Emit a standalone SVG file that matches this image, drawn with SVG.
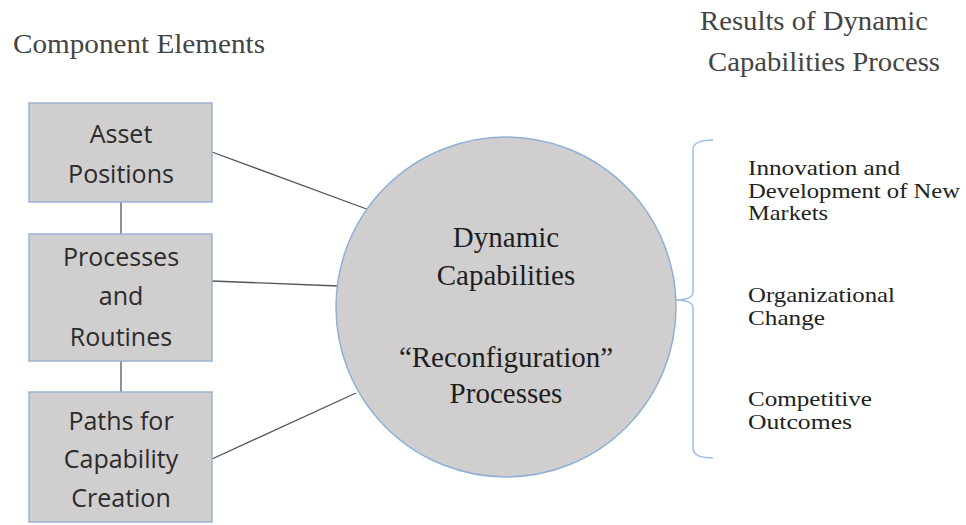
<svg xmlns="http://www.w3.org/2000/svg" width="966" height="525" viewBox="0 0 966 525">
<style>
.box{fill:#d0cece;stroke:#9ab4d2;stroke-width:1.5}
.bt{font-family:"Open Sans","Noto Sans",sans-serif;font-size:25px;fill:#2b2b2b;text-anchor:middle}
.serif{font-family:"Liberation Serif","Times New Roman",serif;fill:#2b2b2b}
.hd{font-size:28px;fill:#444}
.ct{font-size:29px;text-anchor:middle;fill:#1e1e1e}
.rt{font-size:21px;fill:#222}
.conn{stroke:#555;stroke-width:1.3;fill:none}
</style>
<rect width="966" height="525" fill="#fff"/>
<text class="serif hd" x="13" y="53" textLength="252" lengthAdjust="spacingAndGlyphs">Component Elements</text>
<text class="serif hd" x="700" y="30" textLength="228" lengthAdjust="spacingAndGlyphs">Results of Dynamic</text>
<text class="serif hd" x="708" y="71" textLength="232" lengthAdjust="spacingAndGlyphs">Capabilities Process</text>
<g id="connectors">
<line class="conn" x1="121" y1="202" x2="121" y2="234"/>
<line class="conn" x1="121" y1="361" x2="121" y2="392"/>
<line class="conn" x1="212" y1="152" x2="372" y2="211"/>
<line class="conn" x1="212" y1="281" x2="338" y2="286"/>
<line class="conn" x1="212" y1="459" x2="356" y2="393"/>
<path d="M713,140 Q693,140 693,150 L693,292 Q693,300 675,300 Q693,300 693,308 L693,448 Q693,458 713,458" fill="none" stroke="#9cc1e2" stroke-width="1.5"/>
</g>
<g id="asset">
<rect class="box" x="29" y="103" width="183" height="99"/>
<text class="bt" x="121" y="143">Asset</text>
<text class="bt" x="121" y="183">Positions</text>
</g>
<g id="processes">
<rect class="box" x="29" y="234" width="183" height="127"/>
<text class="bt" x="121" y="266">Processes</text>
<text class="bt" x="121" y="305">and</text>
<text class="bt" x="121" y="346">Routines</text>
</g>
<g id="paths">
<rect class="box" x="29" y="392" width="183" height="130"/>
<text class="bt" x="121" y="430">Paths for</text>
<text class="bt" x="121" y="468">Capability</text>
<text class="bt" x="121" y="507">Creation</text>
</g>
<g id="dynamic">
<circle cx="506" cy="307" r="170" fill="#d0cece" stroke="#8fb0d4" stroke-width="1.5"/>
<text class="serif ct" x="506" y="247">Dynamic</text>
<text class="serif ct" x="506" y="285">Capabilities</text>
<text class="serif ct" x="506" y="367">“Reconfiguration”</text>
<text class="serif ct" x="506" y="403">Processes</text>
</g>
<g id="results">
<text class="serif rt" x="748" y="175" textLength="152" lengthAdjust="spacingAndGlyphs">Innovation and</text>
<text class="serif rt" x="748" y="198" textLength="212" lengthAdjust="spacingAndGlyphs">Development of New</text>
<text class="serif rt" x="748" y="220" textLength="80" lengthAdjust="spacingAndGlyphs">Markets</text>
<text class="serif rt" x="748" y="302" textLength="147" lengthAdjust="spacingAndGlyphs">Organizational</text>
<text class="serif rt" x="748" y="325" textLength="77" lengthAdjust="spacingAndGlyphs">Change</text>
<text class="serif rt" x="748" y="406" textLength="124" lengthAdjust="spacingAndGlyphs">Competitive</text>
<text class="serif rt" x="748" y="429" textLength="104" lengthAdjust="spacingAndGlyphs">Outcomes</text>
</g>
</svg>
